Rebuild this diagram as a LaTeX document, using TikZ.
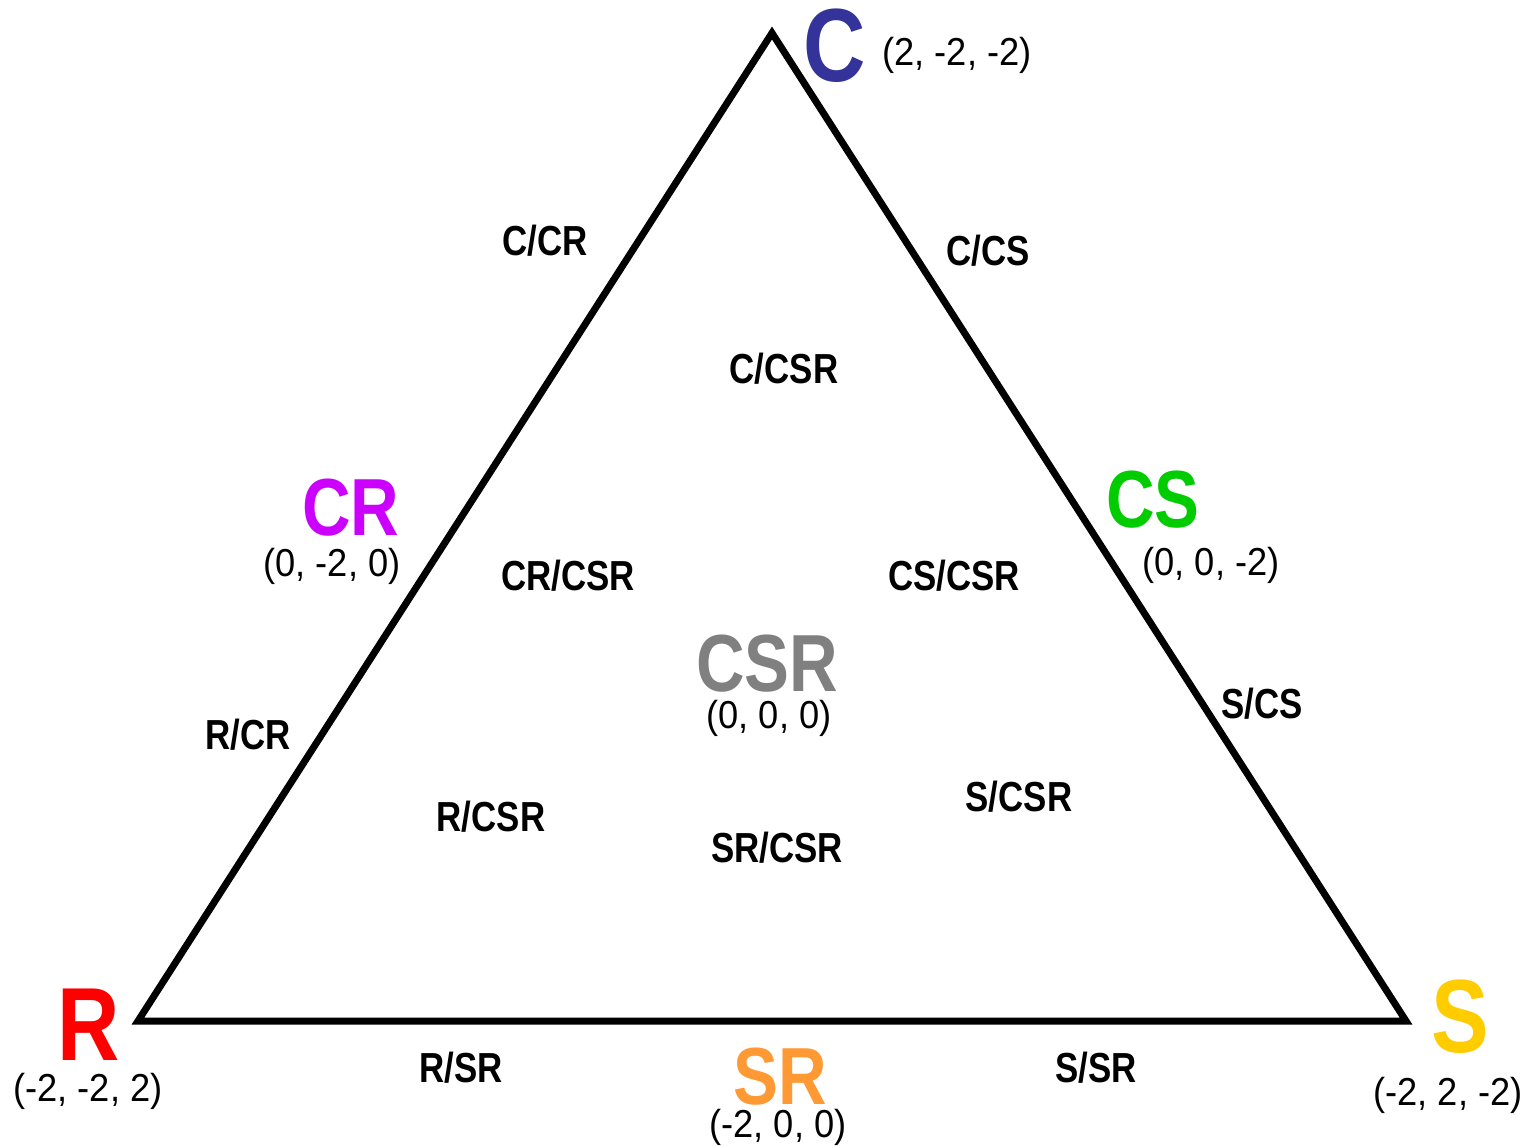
\documentclass[tikz,border=0pt]{standalone}
\usepackage{fontspec}
\setmainfont{Liberation Sans}
\newfontfamily\labf[FakeStretch=0.83]{Liberation Sans Bold}
\newfontfamily\crdf[FakeStretch=0.93]{Liberation Sans}
\definecolor{cC}{HTML}{333399}
\definecolor{cCR}{HTML}{CC00FF}
\definecolor{cCS}{HTML}{00CC00}
\definecolor{cCSR}{HTML}{808080}
\definecolor{cR}{HTML}{FF0000}
\definecolor{cS}{HTML}{FFCC00}
\definecolor{cSR}{HTML}{FF9933}
\tikzset{
  vbig/.style={inner sep=0pt, font=\labf\fontsize{104}{104}\selectfont},
  mbig/.style={inner sep=0pt, font=\labf\fontsize{81}{81}\selectfont},
  coord/.style={inner sep=0pt, font=\crdf\fontsize{39}{39}\selectfont},
  region/.style={inner sep=0pt, font=\labf\fontsize{42}{42}\selectfont},
  tri/.style={draw=black, line width=7pt, line join=miter}
}
\begin{document}
\begin{tikzpicture}[x=1pt,y=-1pt]
\useasboundingbox[fill=white] (0,0) rectangle (1535,1146);
\coordinate (vC) at (772,33);
\coordinate (vR) at (138,1021);
\coordinate (vS) at (1406,1021);
\draw[tri] (vC) -- (vS) -- (vR) -- cycle;

% vertices
\node[vbig, text=cC] (C) at (835,46) {C};
\node[coord] (Cc) at (957,55) {(2, -2, -2)};
\node[vbig, text=cR] (R) at (89,1025) {R};
\node[coord] (Rc) at (88,1091) {(-2, -2, 2)};
\node[vbig, text=cS] (S) at (1460,1017) {S};
\node[coord] (Sc) at (1448,1095) {(-2, 2, -2)};

% edge midpoints and centre
\node[mbig, text=cCR] (CR) at (351,508) {CR};
\node[coord] (CRc) at (332,566) {(0, -2, 0)};
\node[mbig, text=cCS] (CS) at (1153,500) {CS};
\node[coord] (CSc) at (1211,565) {(0, 0, -2)};
\node[mbig, text=cSR] (SR) at (780,1077) {SR};
\node[coord] (SRc) at (778,1127) {(-2, 0, 0)};
\node[mbig, text=cCSR] (CSR) at (767,664) {CSR};
\node[coord] (CSRc) at (769,718) {(0, 0, 0)};

% region labels
\node[region] (cCRl) at (545,241) {C/CR};
\node[region] (cCSl) at (988,251) {C/CS};
\node[region] (cCSRl) at (784,369) {C/CSR};
\node[region] (crCSRl) at (568,576) {CR/CSR};
\node[region] (csCSRl) at (954,576) {CS/CSR};
\node[region] (rCRl) at (248,735) {R/CR};
\node[region] (sCSl) at (1262,704) {S/CS};
\node[region] (rCSRl) at (491,817) {R/CSR};
\node[region] (sCSRl) at (1019,797) {S/CSR};
\node[region] (srCSRl) at (777,848) {SR/CSR};
\node[region] (rSRl) at (461,1068) {R/SR};
\node[region] (sSRl) at (1096,1068) {S/SR};
\end{tikzpicture}
\end{document}
